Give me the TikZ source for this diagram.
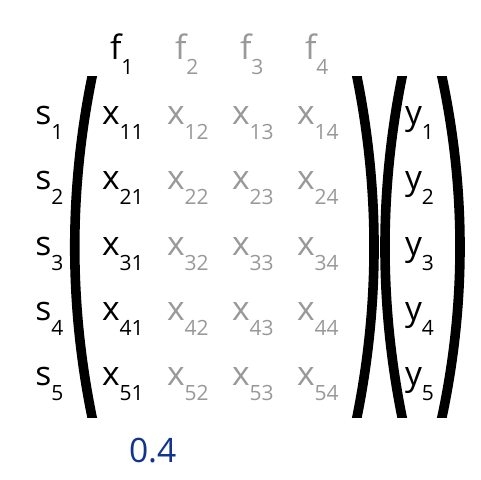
\documentclass[tikz,border=0pt]{standalone}
\usepackage{fontspec}
\setmainfont{Open Sans}
\usepackage{tikz}
\usetikzlibrary{positioning}

\definecolor{faded}{gray}{0.6}
\definecolor{valblue}{RGB}{18,52,140}
\newcommand{\ent}[2]{#1\raisebox{-7.5pt}{\fontsize{10.5}{12}\selectfont #2}}

\begin{document}
\begin{tikzpicture}[x=0.5pt, y=-0.5pt, node distance=32.5pt,
    cell/.style={inner sep=0pt, text width=23pt, align=left, text height=12pt,
                 text depth=8pt, font=\fontsize{16.8}{20}\selectfont},
    off/.style={cell, text=faded},
    bracket/.style={line width=4.8pt}]
  \useasboundingbox (0,0) rectangle (480,480);

  \node[cell] (x11) at (125,121) {\ent{x}{11}};
  \node[off]  (x12) [right of=x11] {\ent{x}{12}};
  \node[off]  (x13) [right of=x12] {\ent{x}{13}};
  \node[off]  (x14) [right of=x13] {\ent{x}{14}};
  \node[cell] (x21) [below of=x11] {\ent{x}{21}};
  \node[off]  (x22) [right of=x21] {\ent{x}{22}};
  \node[off]  (x23) [right of=x22] {\ent{x}{23}};
  \node[off]  (x24) [right of=x23] {\ent{x}{24}};
  \node[cell] (x31) [below of=x21] {\ent{x}{31}};
  \node[off]  (x32) [right of=x31] {\ent{x}{32}};
  \node[off]  (x33) [right of=x32] {\ent{x}{33}};
  \node[off]  (x34) [right of=x33] {\ent{x}{34}};
  \node[cell] (x41) [below of=x31] {\ent{x}{41}};
  \node[off]  (x42) [right of=x41] {\ent{x}{42}};
  \node[off]  (x43) [right of=x42] {\ent{x}{43}};
  \node[off]  (x44) [right of=x43] {\ent{x}{44}};
  \node[cell] (x51) [below of=x41] {\ent{x}{51}};
  \node[off]  (x52) [right of=x51] {\ent{x}{52}};
  \node[off]  (x53) [right of=x52] {\ent{x}{53}};
  \node[off]  (x54) [right of=x53] {\ent{x}{54}};

  \node[cell] (f1) [above of=x11, xshift=4pt] {\ent{f}{1}};
  \node[off]  (f2) [above of=x12, xshift=4pt] {\ent{f}{2}};
  \node[off]  (f3) [above of=x13, xshift=4pt] {\ent{f}{3}};
  \node[off]  (f4) [above of=x14, xshift=4pt] {\ent{f}{4}};

  \node[cell] (s1) [left of=x11, xshift=-0.8pt] {\ent{s}{1}};
  \node[cell] (s2) [left of=x21, xshift=-0.8pt] {\ent{s}{2}};
  \node[cell] (s3) [left of=x31, xshift=-0.8pt] {\ent{s}{3}};
  \node[cell] (s4) [left of=x41, xshift=-0.8pt] {\ent{s}{4}};
  \node[cell] (s5) [left of=x51, xshift=-0.8pt] {\ent{s}{5}};

  \node[cell] (y1) [right of=x14, xshift=21.5pt] {\ent{y}{1}};
  \node[cell] (y2) [right of=x24, xshift=21.5pt] {\ent{y}{2}};
  \node[cell] (y3) [right of=x34, xshift=21.5pt] {\ent{y}{3}};
  \node[cell] (y4) [right of=x44, xshift=21.5pt] {\ent{y}{4}};
  \node[cell] (y5) [right of=x54, xshift=21.5pt] {\ent{y}{5}};

  \node[cell, text=valblue] (val) [below of=x51, node distance=38.5pt, xshift=13.5pt] {0.4};

  \begin{scope}
    \clip (0,77) rectangle (480,417);
    \draw[bracket] (93.6,69.2) -- (92,77) .. controls (69,190) and (69,304) .. (92,417) -- (93.6,424.8);
    \draw[bracket] (355.4,69.2) -- (357,77) .. controls (379.7,190) and (379.7,304) .. (357,417) -- (355.4,424.8);
    \draw[bracket] (403.6,69.2) -- (402,77) .. controls (379.3,190) and (379.3,304) .. (402,417) -- (403.6,424.8);
    \draw[bracket] (440.4,69.2) -- (442,77) .. controls (466,190) and (466,304) .. (442,417) -- (440.4,424.8);
  \end{scope}
\end{tikzpicture}
\end{document}
